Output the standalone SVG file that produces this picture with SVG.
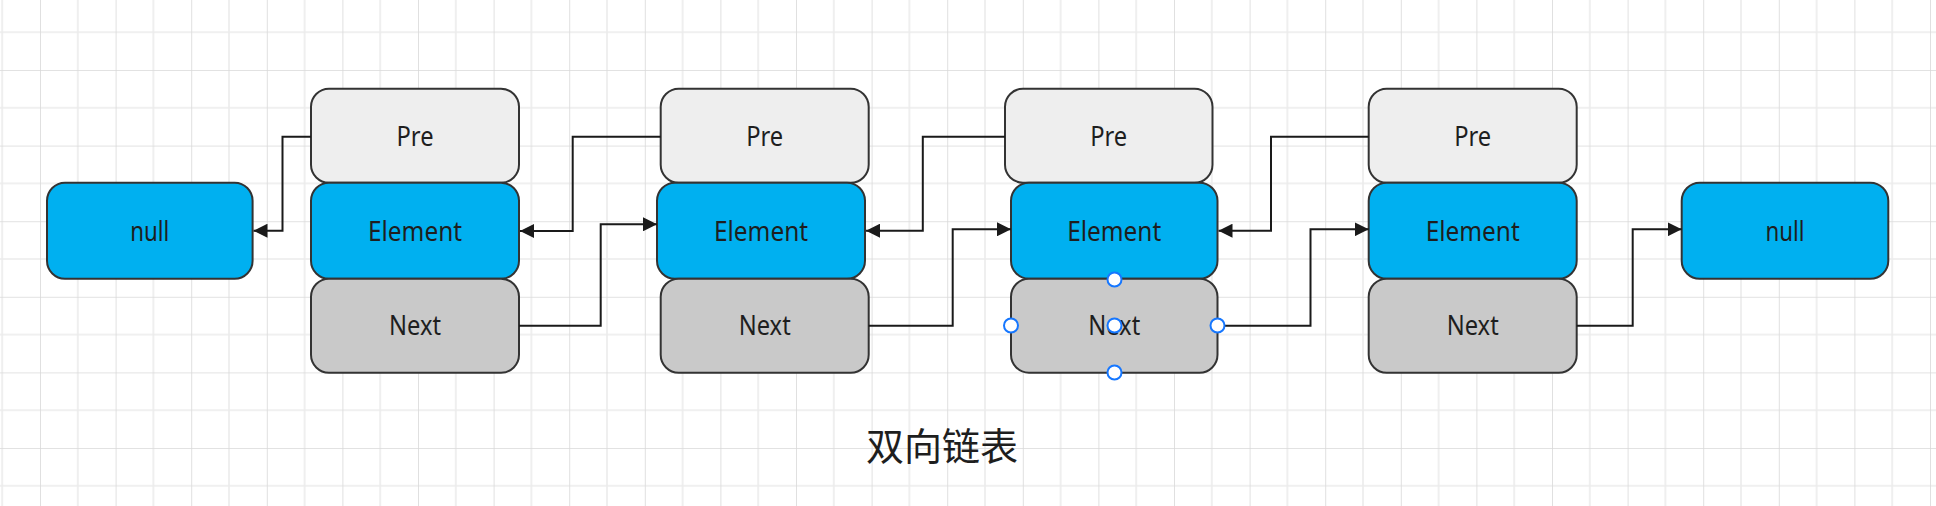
<svg xmlns="http://www.w3.org/2000/svg" width="1936" height="506" viewBox="0 0 1936 506">
<style>
.box{stroke:#333;stroke-width:2}
.pre{fill:#eeeeee}
.el{fill:#00b0f0}
.nx{fill:#c9c9c9}
.lbl{font-family:"Noto Sans","Open Sans",sans-serif;font-size:28px;fill:#1e1e1e;text-anchor:middle}
.conn{fill:none;stroke:#1a1a1a;stroke-width:2}
.hdl{fill:#fff;stroke:#1677ff;stroke-width:2}
</style>
<defs>
<pattern id="grid" x="40" y="70" width="75.6" height="75.6" patternUnits="userSpaceOnUse">
<path d="M37.8 0V75.6M0 37.8H75.6" stroke="#ebebeb" stroke-width="1.6" fill="none"/>
<path d="M0 0V75.6M0 0H75.6" stroke="#d9d9d9" stroke-width="1.6" fill="none"/>
</pattern>
<marker id="arr" markerUnits="userSpaceOnUse" markerWidth="14" markerHeight="14" refX="14" refY="7" orient="auto">
<path d="M0 0L14 7L0 14z" fill="#1a1a1a"/>
</marker>
</defs>
<rect width="1936" height="506" fill="#fff"/>
<rect width="1936" height="506" fill="url(#grid)"/>

<g id="null-left">
<rect class="box el" x="47" y="182.7" width="205.6" height="96" rx="18"/>
<text class="lbl" x="149.8" y="240.7" textLength="39" lengthAdjust="spacingAndGlyphs">null</text>
</g>

<g id="node1">
<rect class="box pre" x="311" y="88.7" width="208" height="94" rx="18"/>
<text class="lbl" x="415" y="146" textLength="37" lengthAdjust="spacingAndGlyphs">Pre</text>
<rect class="box el" x="311" y="182.7" width="208" height="96" rx="18"/>
<text class="lbl" x="415" y="240.7" textLength="94" lengthAdjust="spacingAndGlyphs">Element</text>
<rect class="box nx" x="311" y="278.7" width="208" height="94" rx="18"/>
<text class="lbl" x="415" y="334.5" textLength="52" lengthAdjust="spacingAndGlyphs">Next</text>
</g>

<g id="node2">
<rect class="box pre" x="660.7" y="88.7" width="208" height="94" rx="18"/>
<text class="lbl" x="764.7" y="146" textLength="37" lengthAdjust="spacingAndGlyphs">Pre</text>
<rect class="box el" x="657" y="182.7" width="208" height="96" rx="18"/>
<text class="lbl" x="761" y="240.7" textLength="94" lengthAdjust="spacingAndGlyphs">Element</text>
<rect class="box nx" x="660.7" y="278.7" width="208" height="94" rx="18"/>
<text class="lbl" x="764.7" y="334.5" textLength="52" lengthAdjust="spacingAndGlyphs">Next</text>
</g>

<g id="node3">
<rect class="box pre" x="1005" y="88.7" width="207.5" height="94" rx="18"/>
<text class="lbl" x="1108.7" y="146" textLength="37" lengthAdjust="spacingAndGlyphs">Pre</text>
<rect class="box el" x="1011" y="182.7" width="206.5" height="96" rx="18"/>
<text class="lbl" x="1114.2" y="240.7" textLength="94" lengthAdjust="spacingAndGlyphs">Element</text>
<rect class="box nx" x="1011" y="278.7" width="206.5" height="94" rx="18"/>
<text class="lbl" x="1114.2" y="334.5" textLength="52" lengthAdjust="spacingAndGlyphs">Next</text>
</g>

<g id="node4">
<rect class="box pre" x="1368.7" y="88.7" width="208" height="94" rx="18"/>
<text class="lbl" x="1472.7" y="146" textLength="37" lengthAdjust="spacingAndGlyphs">Pre</text>
<rect class="box el" x="1368.7" y="182.7" width="208" height="96" rx="18"/>
<text class="lbl" x="1472.7" y="240.7" textLength="94" lengthAdjust="spacingAndGlyphs">Element</text>
<rect class="box nx" x="1368.7" y="278.7" width="208" height="94" rx="18"/>
<text class="lbl" x="1472.7" y="334.5" textLength="52" lengthAdjust="spacingAndGlyphs">Next</text>
</g>

<g id="null-right">
<rect class="box el" x="1681.7" y="182.7" width="206.6" height="96" rx="18"/>
<text class="lbl" x="1785" y="240.7" textLength="39" lengthAdjust="spacingAndGlyphs">null</text>
</g>

<g id="connectors">
<path class="conn" marker-end="url(#arr)" d="M311 136.7H282.5V230.7H253.5"/>
<path class="conn" marker-end="url(#arr)" d="M519 325.7H600.7V224.3H657"/>
<path class="conn" marker-end="url(#arr)" d="M660.7 136.7H572.7V231H520"/>
<path class="conn" marker-end="url(#arr)" d="M868.7 325.7H952.7V229.3H1011"/>
<path class="conn" marker-end="url(#arr)" d="M1005 136.7H922.8V230.7H866"/>
<path class="conn" marker-end="url(#arr)" d="M1217.5 325.7H1310.5V229.3H1368.7"/>
<path class="conn" marker-end="url(#arr)" d="M1368.7 136.7H1271V230.7H1218.5"/>
<path class="conn" marker-end="url(#arr)" d="M1576.7 325.7H1632.7V229.3H1681.7"/>
</g>

<g id="selection-handles">
<circle class="hdl" cx="1114.5" cy="279.5" r="7"/>
<circle class="hdl" cx="1011" cy="325.5" r="7"/>
<circle class="hdl" cx="1217.5" cy="325.5" r="7"/>
<circle class="hdl" cx="1114.5" cy="372.5" r="7"/>
<circle class="hdl" cx="1114.5" cy="325.5" r="7"/>
</g>

<g id="title">
<text x="942" y="460" font-family="'Noto Sans CJK SC',sans-serif" font-size="38" fill="#1e1e1e" text-anchor="middle">双向链表</text>
</g>
</svg>
